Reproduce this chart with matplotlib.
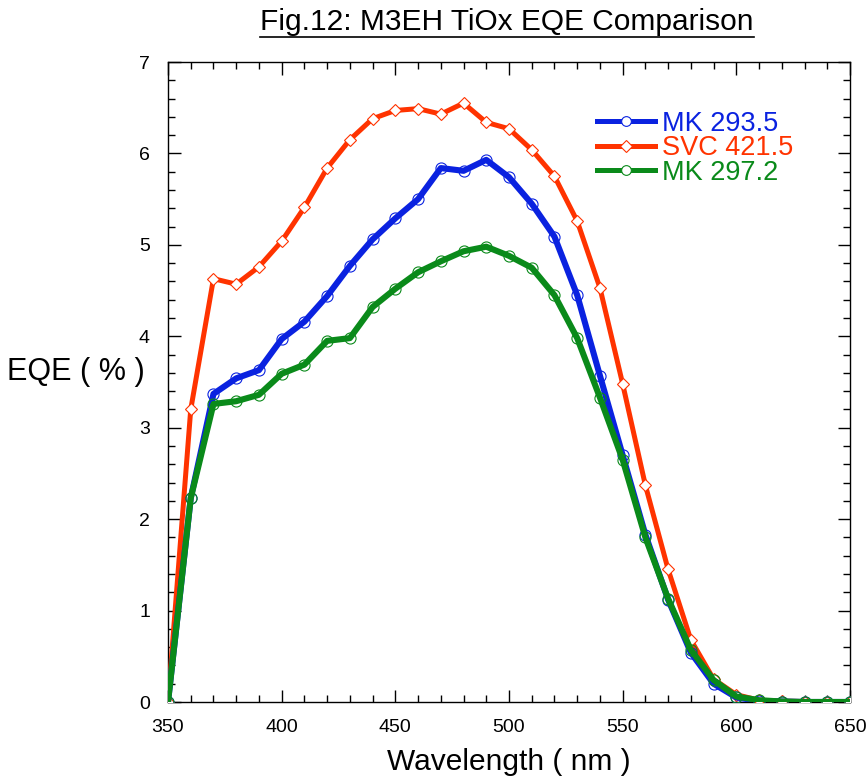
import matplotlib
matplotlib.use("Agg")
import matplotlib.pyplot as plt
from matplotlib.lines import Line2D
from matplotlib.ticker import MultipleLocator

plt.rcParams['font.family'] = ['Liberation Sans', 'DejaVu Sans']

wavelength = [350, 360, 370, 380, 390, 400, 410, 420, 430, 440, 450, 460, 470, 480, 490, 500,
              510, 520, 530, 540, 550, 560, 570, 580, 590, 600, 610, 620, 630, 640, 650]

mk_293 = [0.0, 2.23, 3.37, 3.54, 3.63, 3.97, 4.16, 4.44, 4.77, 5.06, 5.29, 5.50, 5.84, 5.81, 5.93, 5.74,
          5.45, 5.09, 4.45, 3.57, 2.70, 1.83, 1.12, 0.54, 0.20, 0.05, 0.01, 0.005, 0.0, 0.0, 0.0]
svc_421 = [0.0, 3.20, 4.63, 4.57, 4.76, 5.04, 5.41, 5.84, 6.15, 6.38, 6.47, 6.49, 6.43, 6.55, 6.34, 6.27,
           6.04, 5.75, 5.26, 4.53, 3.48, 2.37, 1.45, 0.68, 0.25, 0.08, 0.02, 0.01, 0.005, 0.0, 0.0]
mk_297 = [0.0, 2.23, 3.26, 3.29, 3.36, 3.59, 3.69, 3.95, 3.98, 4.32, 4.52, 4.70, 4.82, 4.93, 4.98, 4.88,
          4.75, 4.45, 3.98, 3.33, 2.65, 1.80, 1.13, 0.57, 0.24, 0.06, 0.02, 0.005, 0.0, 0.0, 0.0]

labels = ["MK 293.5", "SVC 421.5", "MK 297.2"]
colors = ["#0a22e0", "#ff3300", "#0a8a1a"]

fig = plt.figure(figsize=(8.66, 7.82), dpi=100)
ax = fig.add_axes([0.194, 0.1023, 0.7875, 0.8184])

ax.plot(wavelength, svc_421, color=colors[1], lw=3.6, marker="D", ms=6,
        mfc="white", mec=colors[1], mew=0.8, zorder=3)
ax.plot(wavelength, mk_293, color=colors[0], lw=4.4, marker="o", ms=8,
        mfc="none", mec=colors[0], mew=0.8, zorder=4)
ax.plot(wavelength, mk_297, color=colors[2], lw=4.4, marker="o", ms=8,
        mfc="none", mec=colors[2], mew=0.8, zorder=5)

ax.set_xlim(350, 650)
ax.set_ylim(0, 7)
ax.xaxis.set_major_locator(MultipleLocator(50))
ax.xaxis.set_minor_locator(MultipleLocator(10))
ax.yaxis.set_major_locator(MultipleLocator(1))
ax.yaxis.set_minor_locator(MultipleLocator(0.2))
ax.tick_params(which="both", direction="in", top=True, right=True, labelsize=14)
ax.tick_params(axis="x", pad=12)
ax.tick_params(axis="y", pad=13)
ax.tick_params(which="major", length=9, width=1)
ax.tick_params(which="minor", length=5, width=1)
for s in ax.spines.values():
    s.set_linewidth(1)

ax.set_xlabel("Wavelength ( nm )", fontsize=21.5, labelpad=9)
ax.set_ylabel("EQE ( % )", fontsize=22, rotation=0, ha="right", va="center")
ax.yaxis.set_label_coords(-0.034, 0.516)

leg_handles = []
for i, c in enumerate(colors):
    mk = "D" if i == 1 else "o"
    leg_handles.append(Line2D([0], [0], color=c, lw=3.6, marker=mk, ms=7 if mk == "o" else 6,
                              mfc="white", mec=c, mew=0.8))
leg = ax.legend(leg_handles, labels, loc="upper left", bbox_to_anchor=(0.629, 0.924),
                frameon=False, fontsize=19.5, handlelength=2.15, handletextpad=0.25,
                labelspacing=-0.05, borderpad=0, borderaxespad=0)
for t, c in zip(leg.get_texts(), colors):
    t.set_color(c)

title = fig.text(0.5855, 0.972, "Fig.12: M3EH TiOx EQE Comparison", fontsize=21.5,
                 ha="center", va="center")
fig.canvas.draw()
bb = title.get_window_extent().transformed(fig.transFigure.inverted())
fig.add_artist(Line2D([bb.x0, bb.x1], [bb.y0 - 0.002, bb.y0 - 0.002], color="black", lw=1.2,
                      transform=fig.transFigure))

fig.savefig("out.png", dpi=100)
